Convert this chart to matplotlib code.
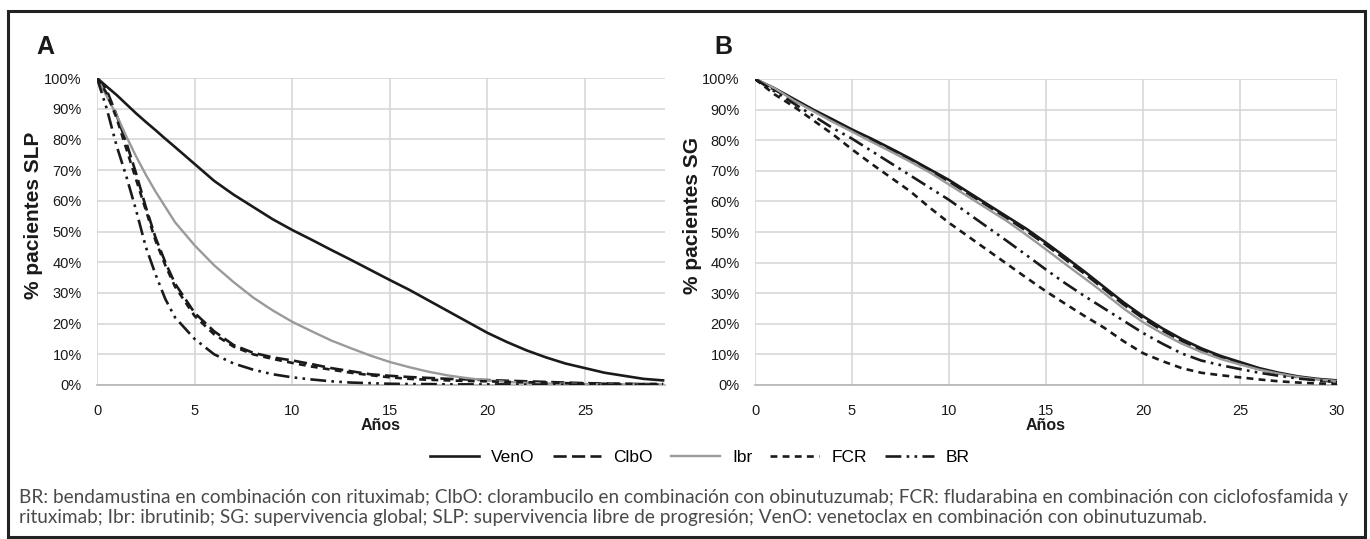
import matplotlib
matplotlib.use("Agg")
import matplotlib.pyplot as plt
from matplotlib.patches import Rectangle
from matplotlib.lines import Line2D
from matplotlib.ticker import PercentFormatter

# ---- data: panel A (SLP) ----
years_a = [0, 0.5, 1, 1.5, 2, 2.5, 3, 3.5, 4, 5, 6, 7, 8, 9, 10, 11, 12, 13, 14,
           15, 16, 17, 18, 19, 20, 21, 22, 23, 24, 25, 26, 27, 28, 29]
veno_a = [100, 97.2, 94.5, 91.5, 88.5, 85.7, 83, 80.2, 77.5, 72, 66.5, 62, 58, 54,
          50.5, 47.3, 44, 40.8, 37.5, 34.2, 31, 27.5, 24, 20.5, 17, 14, 11.3, 9,
          7, 5.5, 4, 3, 2, 1.5]
clbo_a = [100, 96, 88, 79, 69, 58, 48, 40, 33, 23.5, 17.5, 13, 10.5, 9, 8, 6.8,
          5.5, 4.5, 3.5, 3, 2.6, 2.3, 2, 1.8, 1.6, 1.4, 1.2, 1, 0.8, 0.6, 0.5,
          0.4, 0.3, 0.3]
ibr_a = [100, 94, 88, 81, 74.5, 68.5, 63, 58, 53, 45.5, 39, 33.5, 28.5, 24.3, 20.6,
         17.5, 14.5, 12, 9.6, 7.5, 5.8, 4.3, 3.1, 2.2, 1.5, 1.0, 0.7, 0.5, 0.4,
         0.3, 0.3, 0.2, 0.2, 0.2]
fcr_a = [100, 95, 87, 77, 67, 57, 47, 39, 32, 22.5, 16.5, 12.5, 10, 8.5, 7.2, 6,
         5, 4, 3.2, 2.5, 2, 1.7, 1.5, 1.3, 1.2, 1, 0.9, 0.8, 0.6, 0.5, 0.4, 0.3,
         0.3, 0.3]
br_a = [100, 90, 78, 68, 57, 45, 36, 28, 22, 15, 10, 7, 5, 3.5, 2.5, 1.8, 1.2,
        0.8, 0.6, 0.4, 0.3, 0.3, 0.2, 0.2, 0.2, 0.2, 0.1, 0.1, 0.1, 0.1, 0.1,
        0.1, 0.1, 0.1]

# ---- data: panel B (SG) ----
years_b = list(range(0, 31))
veno_b = [100, 97, 93.5, 90, 86.8, 83.5, 80.5, 77.3, 74, 70.5, 67, 63, 59, 55, 51,
          46.5, 41.8, 37, 32, 27, 22.5, 18.5, 15, 12, 9.5, 7.5, 5.5, 4, 2.8, 2,
          1.5]
clbo_b = [100, 96.5, 93, 89.8, 86.5, 83.2, 80, 77, 73.7, 70.2, 66.5, 62.5, 58.5,
          54.5, 50.3, 45.8, 41, 36.3, 31.3, 26.3, 21.8, 17.8, 14.4, 11.5, 9, 7,
          5.2, 3.7, 2.5, 1.6, 1.0]
ibr_b = [100, 97, 93, 89.5, 86, 82.8, 79.5, 76.3, 73, 69.5, 65.5, 61.5, 57.5, 53.5,
         49, 44.3, 39.5, 34.8, 30, 25, 20.5, 16.8, 13.5, 10.8, 8.5, 6.7, 5, 3.7,
         2.6, 1.8, 1.3]
fcr_b = [100, 95, 91, 86.5, 82, 77, 72.3, 67.8, 63.3, 58, 53, 48.5, 44, 39.5, 35,
         30.6, 26.5, 22.5, 18.7, 14.3, 10.4, 7.8, 5.5, 4, 3.2, 2.5, 1.8, 1.2, 0.8,
         0.5, 0.4]
br_b = [100, 96, 92, 88, 84, 80.5, 76.5, 72.5, 68.5, 64.5, 60.5, 56, 51.5, 47,
        42.4, 37.7, 33.2, 29, 25, 21, 17, 13.5, 10.3, 8, 6.5, 5.2, 4, 3, 2.1,
        1.5, 1]

names = ["VenO", "ClbO", "Ibr", "FCR", "BR"]
styles = {
    "VenO": dict(color="#1a1a1a", lw=1.9, ls="-"),
    "ClbO": dict(color="#1a1a1a", lw=1.9, ls=(0, (5, 2))),
    "Ibr": dict(color="#9a9a9a", lw=1.7, ls="-"),
    "FCR": dict(color="#1a1a1a", lw=1.9, ls=(0, (2.6, 2))),
    "BR": dict(color="#1a1a1a", lw=1.9, ls=(0, (6, 2, 1, 2, 1, 2))),
}

narrow = ["Liberation Sans Narrow", "Liberation Sans", "DejaVu Sans"]
sans = ["Liberation Sans", "DejaVu Sans"]
note_font = ["Lato", "Open Sans", "DejaVu Sans"]

fig = plt.figure(figsize=(13.7, 5.39), dpi=100)
W, H = 1370, 539


def ax_rect(x0, x1, y0, y1):
    return [x0 / W, 1 - y1 / H, (x1 - x0) / W, (y1 - y0) / H]


ax_a = fig.add_axes(ax_rect(97, 665, 78, 385))
ax_b = fig.add_axes(ax_rect(755, 1337, 79, 385))

series_a = [veno_a, clbo_a, ibr_a, fcr_a, br_a]
series_b = [veno_b, clbo_b, ibr_b, fcr_b, br_b]

for ax, xs, series, xmax in [(ax_a, years_a, series_a, 29.1),
                             (ax_b, years_b, series_b, 30)]:
    for name, ys in zip(names, series):
        ax.plot(xs, ys, **styles[name], zorder=3)
    ax.set_xlim(0, xmax)
    ax.set_ylim(0, 100)
    ax.set_xticks(range(0, int(xmax) + 1, 5))
    ax.set_yticks(range(0, 101, 10))
    ax.yaxis.set_major_formatter(PercentFormatter(decimals=0))
    ax.grid(True, color="#d4d4d4", lw=1.1)
    ax.set_axisbelow(True)
    for s in ["top", "right", "left"]:
        ax.spines[s].set_visible(False)
    ax.spines["bottom"].set_color("#b5b5b5")
    ax.spines["bottom"].set_linewidth(1.2)
    ax.tick_params(length=0, labelsize=10.5)
    ax.tick_params(axis="x", pad=14)
    ax.tick_params(axis="y", pad=11)
    for lab in ax.get_xticklabels() + ax.get_yticklabels():
        lab.set_family(sans)
        lab.set_color("#1a1a1a")
    ax.set_xlabel("Años", family=narrow, fontsize=11.5, fontweight="bold",
                  labelpad=0, color="#1a1a1a")

fig.text(34 / W, 1 - 215 / H, "% pacientes SLP", rotation=90, ha="center",
         va="center", family=narrow, fontsize=15, fontweight="bold", color="#1a1a1a")
fig.text(693 / W, 1 - 215 / H, "% pacientes SG", rotation=90, ha="center",
         va="center", family=narrow, fontsize=15, fontweight="bold", color="#1a1a1a")

fig.text(36 / W, 1 - 47 / H, "A", family=narrow, fontsize=18,
         fontweight="bold", va="center", color="#1a1a1a")
fig.text(714 / W, 1 - 47 / H, "B", family=narrow, fontsize=18,
         fontweight="bold", va="center", color="#1a1a1a")

handles = [Line2D([], [], **styles[n]) for n in names]
fig.legend(handles, names, loc="center", bbox_to_anchor=(700 / W, 1 - 457 / H),
           ncol=5, frameon=False, handlelength=2.8, handletextpad=0.7,
           columnspacing=1.05, prop={"family": sans, "size": 12.5})

note1 = ("BR: bendamustina en combinación con rituximab; ClbO: clorambucilo en "
         "combinación con obinutuzumab; FCR: fludarabina en combinación con "
         "ciclofosfamida y")
note2 = ("rituximab; Ibr: ibrutinib; SG: supervivencia global; SLP: supervivencia "
         "libre de progresión; VenO: venetoclax en combinación con obinutuzumab.")
t1 = fig.text(19 / W, 1 - 497 / H, note1, family=note_font, fontweight="normal",
              fontsize=12, va="center", color="#4a4a4a")
t2 = fig.text(19 / W, 1 - 518 / H, note2, family=note_font, fontweight="normal",
              fontsize=12, va="center", color="#4a4a4a")

# fit the first footnote line to the box width, like the justified original
r = fig.canvas.get_renderer()
w1 = t1.get_window_extent(r).width
scale = (1343 - 19) / w1
t1.set_fontsize(12 * scale)
t2.set_fontsize(12 * scale)

fig.patches.append(Rectangle((8 / W, 1 - 537 / H), 1357 / W, 526 / H,
                             transform=fig.transFigure, fill=False,
                             lw=2.2, ec="#222222"))

fig.savefig("out.png", dpi=100)
plt.close(fig)
